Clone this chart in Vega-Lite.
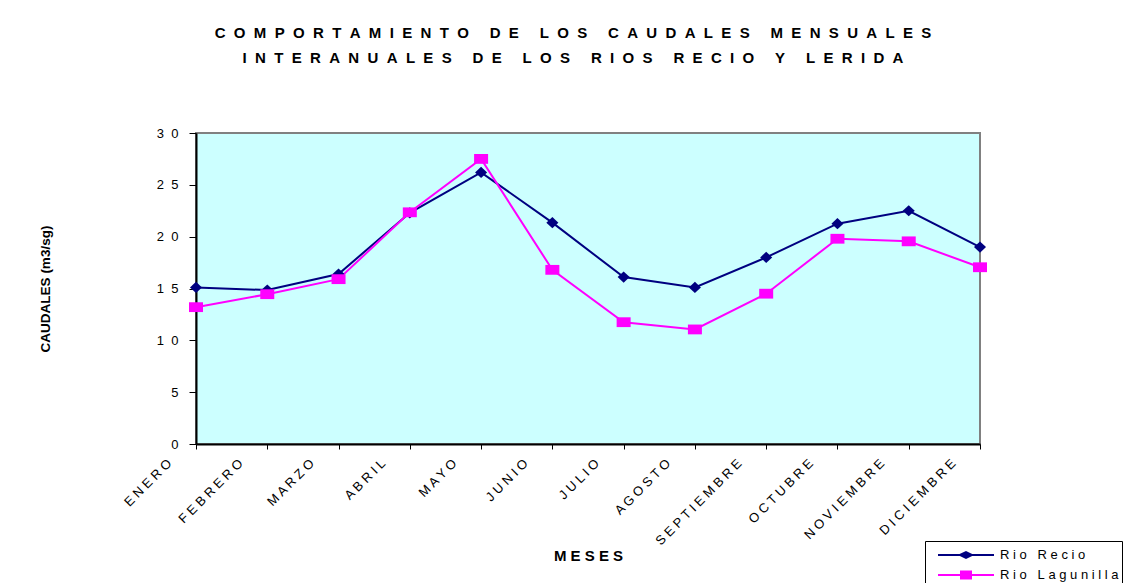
{
  "$schema": "https://vega.github.io/schema/vega-lite/v6.json",
  "width": 784,
  "height": 311,
  "autosize": {"type": "none"},
  "padding": {"left": 196, "top": 133, "right": 159, "bottom": 139},
  "background": "white",
  "config": {
    "font": "Liberation Sans",
    "view": {"fill": "#CCFFFF", "stroke": "#808080", "strokeWidth": 2},
    "axis": {
      "grid": false,
      "domainColor": "black",
      "domainWidth": 2,
      "tickColor": "black",
      "tickWidth": 1,
      "labelColor": "black",
      "titleColor": "black",
      "labelFont": "Liberation Sans",
      "titleFont": "Liberation Sans"
    }
  },
  "title": {
    "text": [
      "C\u00a0\u00a0O\u00a0\u00a0M\u00a0\u00a0P\u00a0\u00a0O\u00a0\u00a0R\u00a0\u00a0T\u00a0\u00a0A\u00a0\u00a0M\u00a0\u00a0I\u00a0\u00a0E\u00a0\u00a0N\u00a0\u00a0T\u00a0\u00a0O\u00a0\u00a0 \u00a0\u00a0D\u00a0\u00a0E\u00a0\u00a0 \u00a0\u00a0L\u00a0\u00a0O\u00a0\u00a0S\u00a0\u00a0 \u00a0\u00a0C\u00a0\u00a0A\u00a0\u00a0U\u00a0\u00a0D\u00a0\u00a0A\u00a0\u00a0L\u00a0\u00a0E\u00a0\u00a0S\u00a0\u00a0 \u00a0\u00a0M\u00a0\u00a0E\u00a0\u00a0N\u00a0\u00a0S\u00a0\u00a0U\u00a0\u00a0A\u00a0\u00a0L\u00a0\u00a0E\u00a0\u00a0S",
      "I\u00a0\u00a0N\u00a0\u00a0T\u00a0\u00a0E\u00a0\u00a0R\u00a0\u00a0A\u00a0\u00a0N\u00a0\u00a0U\u00a0\u00a0A\u00a0\u00a0L\u00a0\u00a0E\u00a0\u00a0S\u00a0\u00a0 \u00a0\u00a0D\u00a0\u00a0E\u00a0\u00a0 \u00a0\u00a0L\u00a0\u00a0O\u00a0\u00a0S\u00a0\u00a0 \u00a0\u00a0R\u00a0\u00a0I\u00a0\u00a0O\u00a0\u00a0S\u00a0\u00a0 \u00a0\u00a0R\u00a0\u00a0E\u00a0\u00a0C\u00a0\u00a0I\u00a0\u00a0O\u00a0\u00a0 \u00a0\u00a0Y\u00a0\u00a0 \u00a0\u00a0L\u00a0\u00a0E\u00a0\u00a0R\u00a0\u00a0I\u00a0\u00a0D\u00a0\u00a0A"
    ],
    "font": "Liberation Sans",
    "fontSize": 15,
    "fontWeight": "bold",
    "color": "black",
    "anchor": "middle",
    "frame": "group",
    "dx": -15,
    "offset": 49,
    "baseline": "alphabetic",
    "lineHeight": 25.3
  },
  "data": {
    "values": [
      {"mes": "ENERO", "rio": "Rio Recio", "caudal": 15.1},
      {"mes": "FEBRERO", "rio": "Rio Recio", "caudal": 14.85},
      {"mes": "MARZO", "rio": "Rio Recio", "caudal": 16.4},
      {"mes": "ABRIL", "rio": "Rio Recio", "caudal": 22.3},
      {"mes": "MAYO", "rio": "Rio Recio", "caudal": 26.2},
      {"mes": "JUNIO", "rio": "Rio Recio", "caudal": 21.35},
      {"mes": "JULIO", "rio": "Rio Recio", "caudal": 16.1},
      {"mes": "AGOSTO", "rio": "Rio Recio", "caudal": 15.1},
      {"mes": "SEPTIEMBRE", "rio": "Rio Recio", "caudal": 18.0},
      {"mes": "OCTUBRE", "rio": "Rio Recio", "caudal": 21.25},
      {"mes": "NOVIEMBRE", "rio": "Rio Recio", "caudal": 22.5},
      {"mes": "DICIEMBRE", "rio": "Rio Recio", "caudal": 19.0},
      {"mes": "ENERO", "rio": "Rio Lagunilla", "caudal": 13.2},
      {"mes": "FEBRERO", "rio": "Rio Lagunilla", "caudal": 14.45},
      {"mes": "MARZO", "rio": "Rio Lagunilla", "caudal": 15.9},
      {"mes": "ABRIL", "rio": "Rio Lagunilla", "caudal": 22.35},
      {"mes": "MAYO", "rio": "Rio Lagunilla", "caudal": 27.5},
      {"mes": "JUNIO", "rio": "Rio Lagunilla", "caudal": 16.8},
      {"mes": "JULIO", "rio": "Rio Lagunilla", "caudal": 11.75},
      {"mes": "AGOSTO", "rio": "Rio Lagunilla", "caudal": 11.05},
      {"mes": "SEPTIEMBRE", "rio": "Rio Lagunilla", "caudal": 14.5},
      {"mes": "OCTUBRE", "rio": "Rio Lagunilla", "caudal": 19.8},
      {"mes": "NOVIEMBRE", "rio": "Rio Lagunilla", "caudal": 19.55},
      {"mes": "DICIEMBRE", "rio": "Rio Lagunilla", "caudal": 17.05}
    ]
  },
  "encoding": {
    "x": {
      "field": "mes",
      "type": "ordinal",
      "sort": ["ENERO", "FEBRERO", "MARZO", "ABRIL", "MAYO", "JUNIO", "JULIO", "AGOSTO", "SEPTIEMBRE", "OCTUBRE", "NOVIEMBRE", "DICIEMBRE"],
      "scale": {"type": "point", "padding": 0},
      "axis": {
        "title": "M\u00a0E\u00a0S\u00a0E\u00a0S",
        "titleFontSize": 15,
        "titleFontWeight": "bold",
        "titlePadding": 0,
        "labelAngle": -45,
        "labelAlign": "right",
        "labelBaseline": "middle",
        "labelFontSize": 13,
        "labelOffset": -27,
        "labelPadding": 12,
        "tickSize": 5,
        "labelExpr": "join(split(datum.label, ''), ' ')"
      }
    },
    "y": {
      "field": "caudal",
      "type": "quantitative",
      "scale": {"domain": [0, 30], "nice": false},
      "axis": {
        "title": "CAUDALES (m3/sg)",
        "titleFontSize": 13.5,
        "titleFontWeight": "bold",
        "titlePadding": 104,
        "values": [0, 5, 10, 15, 20, 25, 30],
        "labelFontSize": 13,
        "tickSize": 7,
        "labelPadding": 11,
        "labelExpr": "join(split(datum.label, ''), '\u00a0\u00a0')"
      }
    },
    "color": {
      "field": "rio",
      "type": "nominal",
      "scale": {"domain": ["Rio Recio", "Rio Lagunilla"], "range": ["#000080", "#FF00FF"]}
    }
  },
  "layer": [
    {
      "mark": {"type": "line", "strokeWidth": 2},
      "encoding": {
        "color": {
          "field": "rio",
          "type": "nominal",
          "scale": {"domain": ["Rio Recio", "Rio Lagunilla"], "range": ["#000080", "#FF00FF"]},
          "legend": {
            "orient": "none",
            "legendX": 729,
            "legendY": 408,
            "title": null,
            "padding": 3,
            "rowPadding": 2,
            "strokeColor": "black",
            "fillColor": "white",
            "labelFont": "Liberation Sans",
            "labelFontSize": 13,
            "labelColor": "black",
            "symbolSize": 400,
            "symbolOffset": 27,
            "labelOffset": 23,
            "symbolStrokeWidth": 2,
            "labelExpr": "join(split(datum.label, ''), '\u00a0')",
            "encode": {
              "symbols": {
                "update": {
                  "shape": {"signal": "datum.value == 'Rio Recio' ? 'M-2.8,0H2.8M-0.6,0L0,-0.3L0.6,0L0,0.3Z' : 'M-2.8,0H2.8M-0.5,-0.35H0.5V0.35H-0.5Z'"},
                  "fill": {"signal": "datum.value == 'Rio Recio' ? '#000080' : '#FF00FF'"},
                  "stroke": {"signal": "datum.value == 'Rio Recio' ? '#000080' : '#FF00FF'"},
                  "opacity": {"value": 1},
                  "fillOpacity": {"value": 1}
                }
              }
            }
          }
        }
      }
    },
    {
      "mark": {
        "type": "point",
        "filled": true,
        "opacity": 1,
        "size": 196,
        "strokeWidth": 0,
        "shape": {"expr": "datum.rio == 'Rio Recio' ? 'M-0.86,0L0,-0.8L0.86,0L0,0.8Z' : 'M-1,-0.7H1V0.7H-1Z'"}
      },
      "encoding": {}
    }
  ]
}
